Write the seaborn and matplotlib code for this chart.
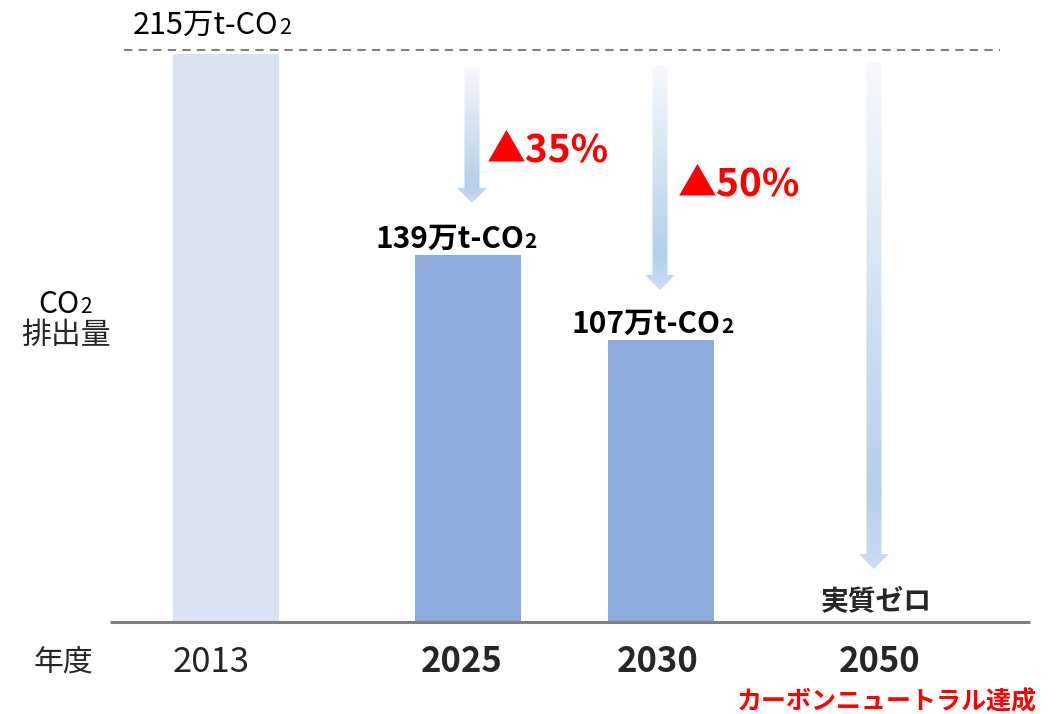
import matplotlib
matplotlib.use('Agg')
import matplotlib.pyplot as plt
import seaborn as sns
import numpy as np
import pandas as pd
from matplotlib.patches import Polygon
from matplotlib.colors import LinearSegmentedColormap

# ---- data ----
years = ['2013', '2025', '2030', '2050']
emissions = [215, 139, 107, 0]          # 万t-CO2
value_labels = ['215万t-CO', '139万t-CO', '107万t-CO']
zero_label = '実質ゼロ'
reductions = ['▲35%', '▲50%']
y_label_lines = ['CO', '排出量']
x_label = '年度'
goal_label = 'カーボンニュートラル達成'
bar_colors = ['#dae3f3', '#8faadc', '#8faadc', '#8faadc']

# ---- style ----
sns.set_style('white')
plt.rcParams['font.family'] = ['Noto Sans CJK JP', 'DejaVu Sans']

W, H = 1063, 714
fig = plt.figure(figsize=(W / 100, H / 100), dpi=100)
ax = fig.add_axes([0, 0, 1, 1])

xcenters = [226, 468, 661, 880]
df = pd.DataFrame({'x': xcenters, 'y': emissions, 'year': years})
sns.barplot(data=df, x='x', y='y', hue='year', palette=bar_colors,
            native_scale=True, width=106 / 193, dodge=False, saturation=1,
            linewidth=0, legend=False, ax=ax)

k = 2.64  # px per unit
base = 622
ax.set_xlim(0, W)
ax.set_ylim(-(H - base) / k, base / k)
ax.axis('off')

# overlay in pixel coordinates
ov = fig.add_axes([0, 0, 1, 1], zorder=2)
ov.patch.set_alpha(0)

# baseline and dashed reference line
ov.plot([110, 1030], [base, base], color='#808080', lw=2.2, solid_capstyle='butt')
ov.plot([124, 1000], [50, 50], color='#808080', lw=1.5, dashes=(4, 3))

cmap = LinearSegmentedColormap.from_list(
    'arr', [(0, '#f6f9fd'), (0.85, '#b4cfea'), (1.0, '#cadcf0')])


def grad_arrow(xc, top, tip, shaft=15, head=30, head_h=15):
    hb = tip - head_h
    pts = [(xc - shaft / 2, top), (xc + shaft / 2, top), (xc + shaft / 2, hb),
           (xc + head / 2, hb), (xc, tip), (xc - head / 2, hb), (xc - shaft / 2, hb)]
    poly = Polygon(pts, closed=True, facecolor='none', edgecolor='none')
    ov.add_patch(poly)
    grad = np.linspace(0, 1, 256).reshape(-1, 1)
    im = ov.imshow(grad, cmap=cmap, origin='lower', aspect='auto',
                   extent=(xc - head / 2, xc + head / 2, top, tip), zorder=1)
    im.set_clip_path(poly)


grad_arrow(472, 67, 203)
grad_arrow(660, 65, 290)
grad_arrow(874, 62, 569)


def co2_text(x, y, main, size, weight, ha='left'):
    t = ov.text(x, y, main, fontsize=size, fontweight=weight, ha=ha,
                va='baseline', color='black', zorder=3)
    ov.annotate('2', xy=(1, 0), xycoords=t, xytext=(0.5, 1.5),
                textcoords='offset points', fontsize=size * 0.7,
                fontweight=weight, ha='left', va='bottom', color='black', zorder=3)


co2_text(133, 34, value_labels[0], 22, 'normal')
co2_text(375, 248, value_labels[1], 21.5, 'bold')
co2_text(572, 333, value_labels[2], 21.5, 'bold')

ov.text(876, 609, zero_label, fontsize=20, fontweight='bold', ha='center', va='baseline')

ov.text(487, 162, reductions[0], fontsize=28, fontweight='bold', color='#ff0000',
        ha='left', va='baseline')
ov.text(678, 195, reductions[1], fontsize=28, fontweight='bold', color='#ff0000',
        ha='left', va='baseline')

# y label
co2_text(38, 313, y_label_lines[0], 21.5, 'normal')
ov.text(66, 344, y_label_lines[1], fontsize=21.5, ha='center', va='baseline')

# x labels
ov.text(63, 672, x_label, fontsize=21.5, ha='center', va='baseline')
label_x = [211, 462, 658, 880]
for i, (yr, lx) in enumerate(zip(years, label_x)):
    ov.text(lx, 672, yr, fontsize=25, fontweight='normal' if i == 0 else 'bold',
            ha='center', va='baseline')

ov.text(887, 709, goal_label, fontsize=18, fontweight='bold', color='#ff0000',
        ha='center', va='baseline')

ov.set_xlim(0, W)
ov.set_ylim(H, 0)
ov.axis('off')

fig.savefig('out.png', dpi=100)
